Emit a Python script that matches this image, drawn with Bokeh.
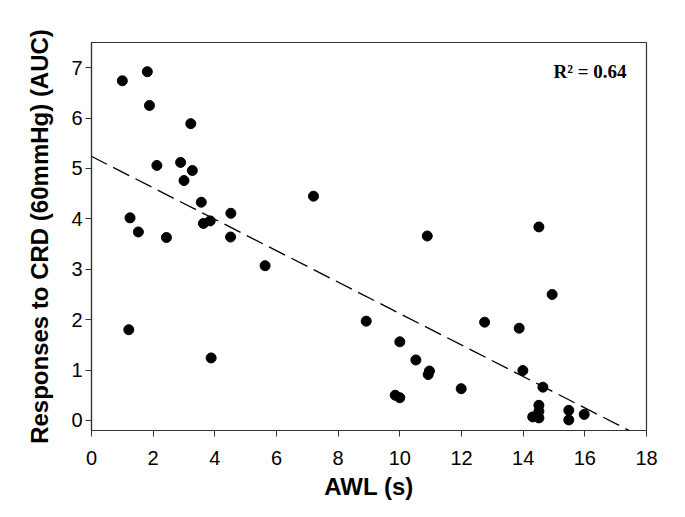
from bokeh.plotting import figure
from bokeh.models import Range1d, FixedTicker, Slope, Label, ColumnDataSource
from bokeh.embed import file_html
from bokeh.resources import INLINE

# Data
awl = [1.00, 1.81, 1.88, 3.22, 2.12, 2.89, 3.27, 3.00, 3.56, 1.25, 1.52, 2.43,
       3.63, 3.85, 4.52, 4.51, 7.20, 1.21, 3.88, 5.63, 8.91, 10.00, 10.52,
       10.96, 10.92, 9.85, 10.00, 11.99, 12.75, 13.87, 14.94, 13.99, 14.64,
       14.51, 14.51, 14.31, 14.51, 15.48, 15.48, 15.98, 10.89, 14.51]
auc = [6.74, 6.92, 6.25, 5.89, 5.06, 5.12, 4.96, 4.76, 4.33, 4.02, 3.74, 3.63,
       3.91, 3.96, 4.11, 3.64, 4.45, 1.80, 1.24, 3.07, 1.97, 1.56, 1.20,
       0.98, 0.91, 0.50, 0.45, 0.63, 1.95, 1.83, 2.50, 0.99, 0.66,
       0.30, 0.18, 0.07, 0.05, 0.20, 0.01, 0.12, 3.66, 3.84]
fit_intercept = 5.24
fit_slope = -0.312
r2_text = "R\u00b2 = 0.64"
x_ticks = [0, 2, 4, 6, 8, 10, 12, 14, 16, 18]
y_ticks = [0, 1, 2, 3, 4, 5, 6, 7]

src = ColumnDataSource(dict(x=awl, y=auc))

p = figure(width=677, height=508, output_backend="svg", toolbar_location=None,
           x_range=Range1d(0, 18), y_range=Range1d(-0.2, 7.5),
           min_border_left=91, min_border_right=31, min_border_top=42,
           min_border_bottom=78)
p.grid.visible = False
p.outline_line_color = "#333333"
p.outline_line_width = 1.2
p.background_fill_color = "white"
p.border_fill_color = "white"

for ax in (p.xaxis[0], p.yaxis[0]):
    ax.axis_line_color = "#333333"
    ax.axis_line_width = 1.2
    ax.major_tick_line_color = "#333333"
    ax.major_tick_in = 0
    ax.major_tick_out = 6
    ax.minor_tick_line_color = None
    ax.major_label_text_font = "Liberation Sans"
    ax.major_label_text_font_size = "20px"
    ax.major_label_text_color = "black"
    ax.axis_label_text_font = "Liberation Sans"
    ax.axis_label_text_font_size = "24px"
    ax.axis_label_text_font_style = "bold"
    ax.axis_label_text_color = "black"

p.xaxis.ticker = FixedTicker(ticks=x_ticks)
p.yaxis.ticker = FixedTicker(ticks=y_ticks)
p.xaxis.axis_label = "AWL (s)"
p.yaxis.axis_label = "Responses to CRD (60mmHg) (AUC)"
p.xaxis.major_label_standoff = 14
p.yaxis.major_label_standoff = 3
p.xaxis.axis_label_standoff = 5
p.yaxis.axis_label_standoff = 15

p.add_layout(Slope(gradient=fit_slope, y_intercept=fit_intercept,
                   line_color="black", line_width=1.3, line_dash="18 7"))

p.scatter("x", "y", source=src, size=10, marker="circle",
          fill_color="black", line_color="black")

p.add_layout(Label(x=17.35, y=6.93, text=r2_text, text_align="right",
                   text_baseline="alphabetic", text_font="Liberation Serif",
                   text_font_size="19px", text_font_style="bold",
                   text_color="black"))

open("out.html", "w").write(file_html(p, INLINE))
